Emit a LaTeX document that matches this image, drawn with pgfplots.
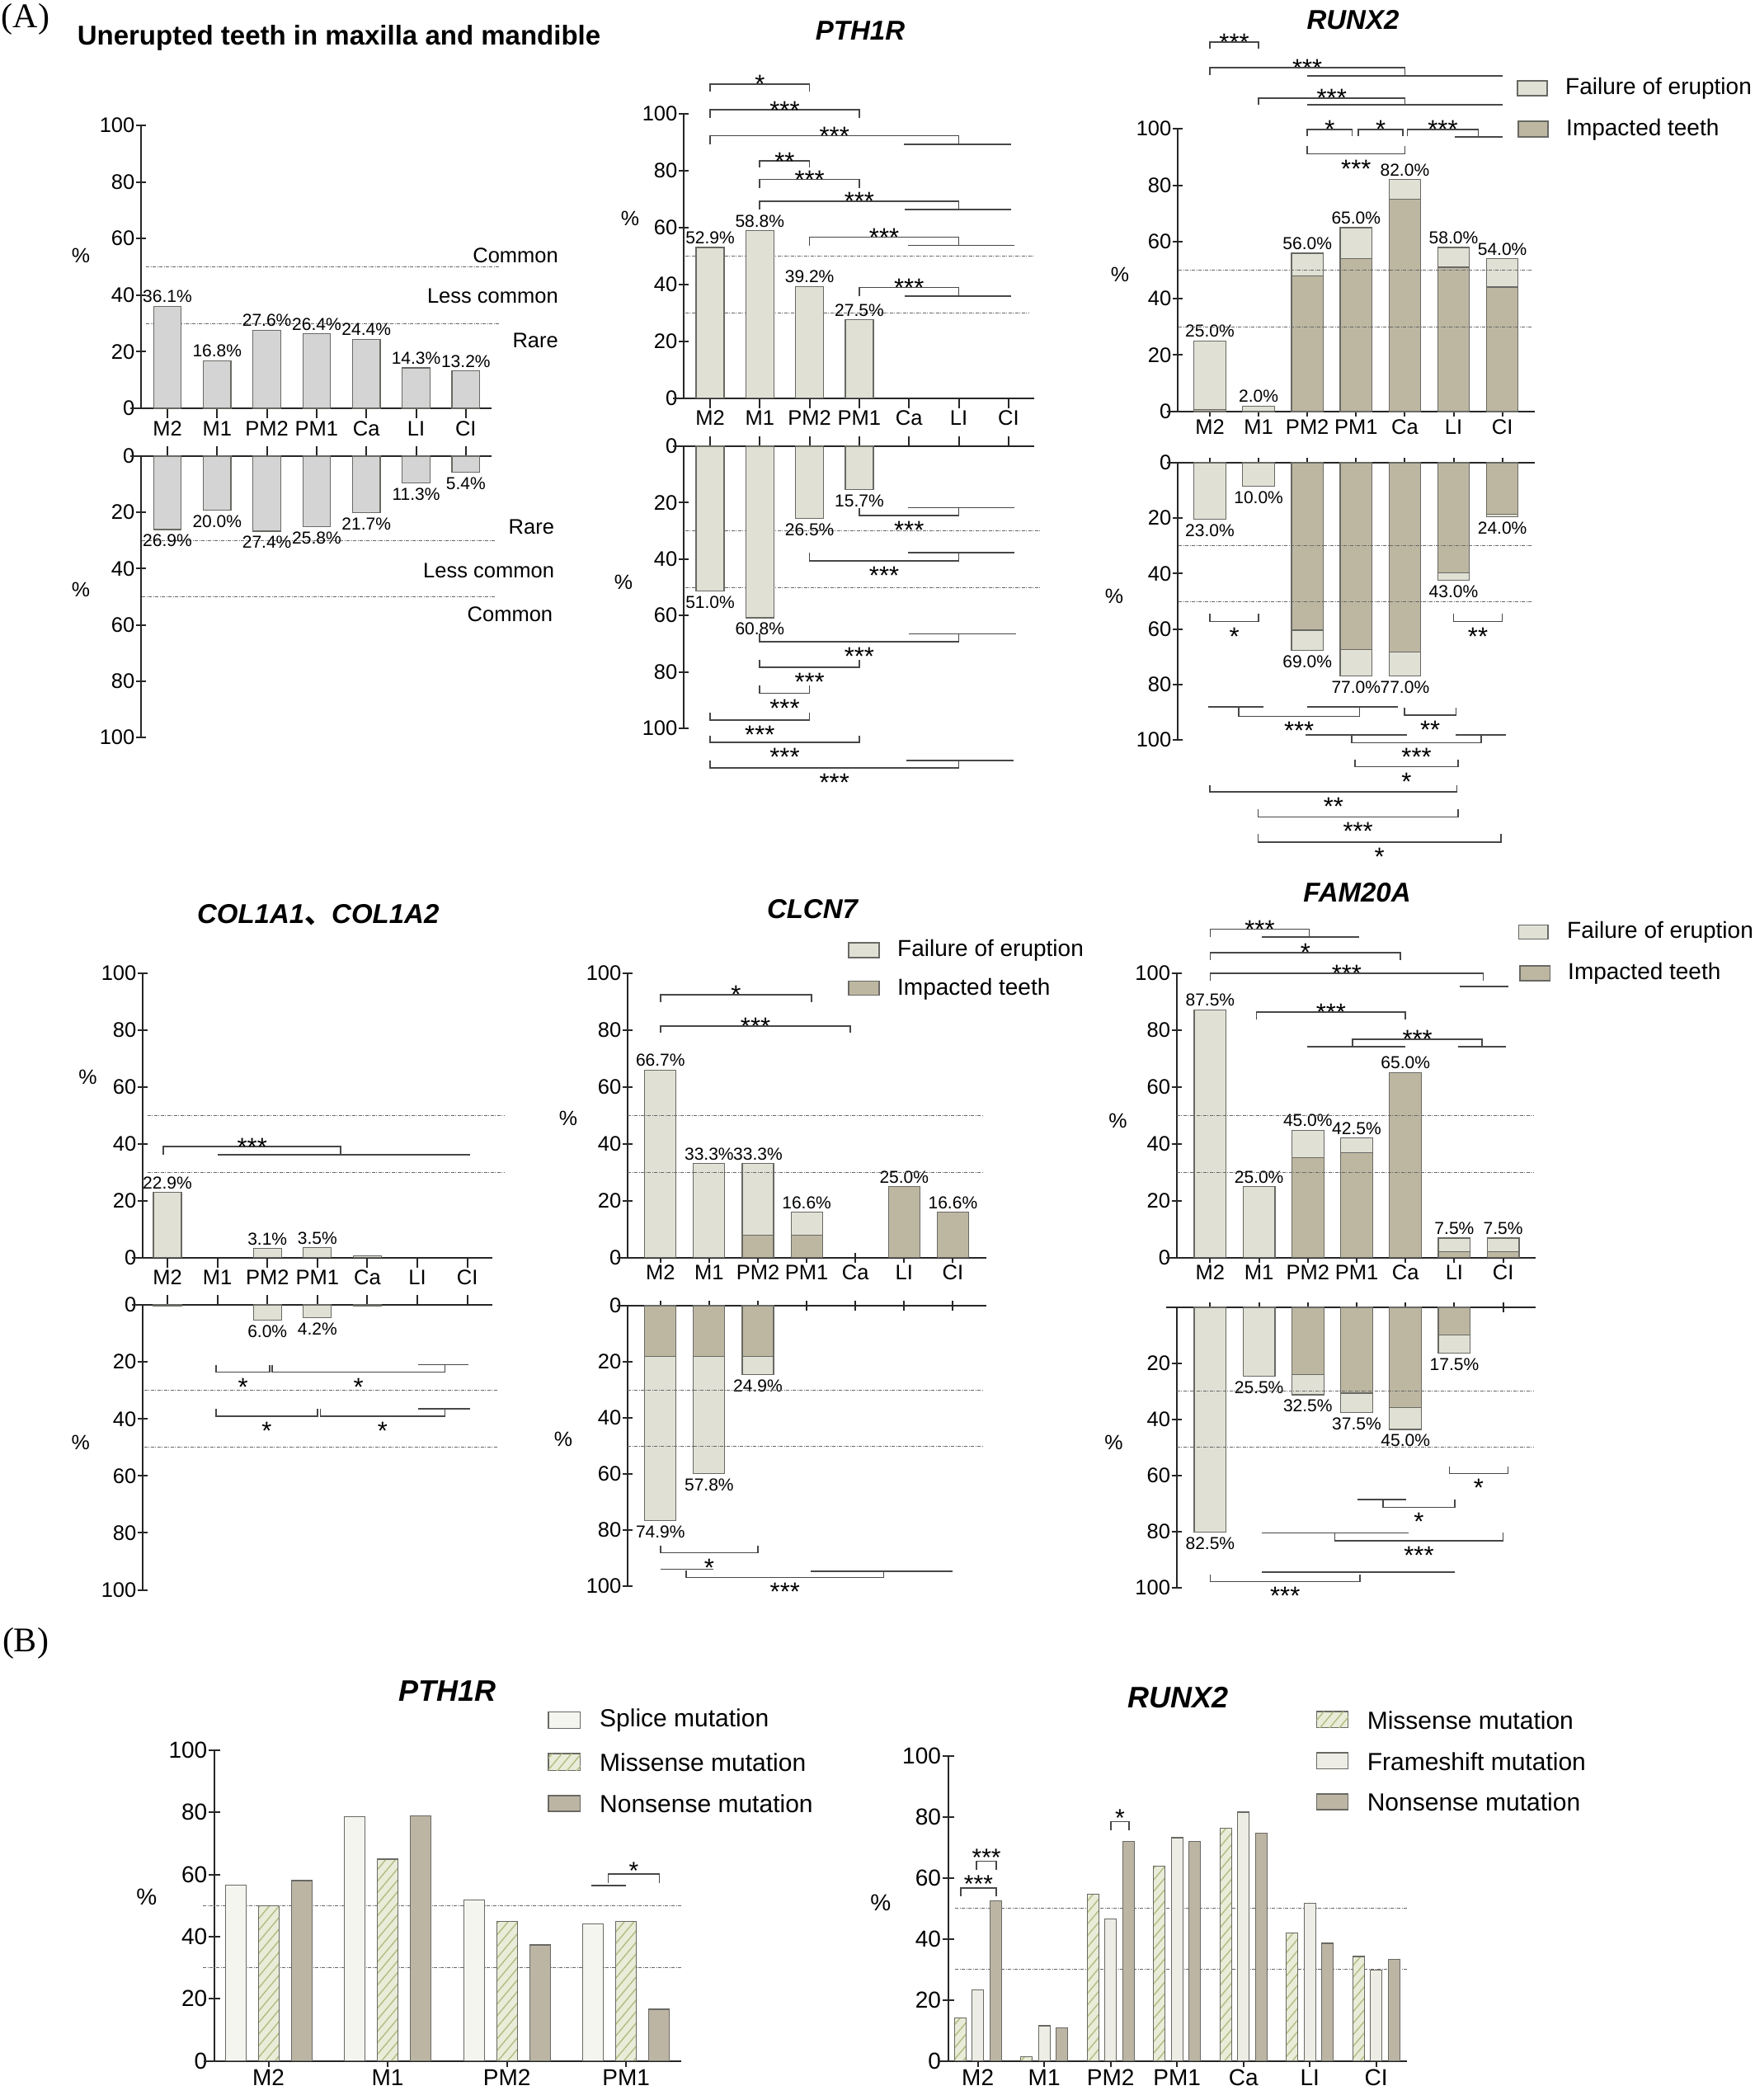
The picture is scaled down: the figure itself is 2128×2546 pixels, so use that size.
\documentclass[border=0pt]{standalone}
\usepackage{fontspec}
\setmainfont{Liberation Sans}
\newfontfamily\serifA{Liberation Serif}
\newfontfamily\cjk{Noto Sans CJK SC}
\usepackage{pgfplots}
\pgfplotsset{compat=1.18}
\usetikzlibrary{patterns,patterns.meta}
\definecolor{fail}{RGB}{224,224,213}
\definecolor{imp}{RGB}{189,183,162}
\definecolor{gbar}{RGB}{212,212,212}
\definecolor{edge}{RGB}{105,105,100}
\definecolor{splice}{RGB}{245,245,240}
\definecolor{miss}{RGB}{233,236,216}
\definecolor{hatch}{RGB}{178,188,130}
\definecolor{frame}{RGB}{237,237,230}
\definecolor{nons}{RGB}{189,181,164}
\newcommand{\fs}[1]{\fontsize{#1}{#1}\selectfont}
\tikzset{
 refl/.style={line width=0.9pt, draw=black!60, dash pattern=on 4pt off 1.5pt on 1pt off 1.5pt},
 brk/.style={line width=1.7pt, draw=black!72},
 st/.style={font=\fs{31}, inner sep=0pt},
 vl/.style={font=\fs{21}},
 lbl/.style={font=\fs{25.5}, inner sep=0pt},
 hatchy/.style={postaction={pattern={Lines[angle=50,distance=9pt,line width=1.4pt]},pattern color=hatch}},
 bL/.style={fill=fail, draw=edge, line width=1.2pt},
 bD/.style={fill=imp, draw=edge, line width=1.2pt},
 bG/.style={fill=gbar, draw=edge, line width=1.2pt},
}
\newcommand{\refline}[3]{\draw[refl] (axis cs:#1,#3) -- (axis cs:#2,#3);}
\newcommand{\gl}[3]{\draw[brk] (axis cs:#1,#3) -- (axis cs:#2,#3);}
\newcommand{\xext}[2]{\draw[line width=2pt,draw=black!85] (axis cs:#1,#2) -- ++(-13pt,0pt);}
\newcommand{\brA}[5]{\draw[brk] (axis cs:#1,#4) -- (axis cs:#1,#3) -- (axis cs:#2,#3) -- (axis cs:#2,#4);\node[st,anchor=base,yshift=-11pt] at (axis cs:{(#1+#2)/2},#3) {#5};}
\newcommand{\brB}[5]{\draw[brk] (axis cs:#1,#4) -- (axis cs:#1,#3) -- (axis cs:#2,#3) -- (axis cs:#2,#4);\node[st,anchor=base,yshift=-28.5pt] at (axis cs:{(#1+#2)/2},#3) {#5};}
\newcommand{\brC}[5]{\draw[brk] (axis cs:#1,#4) -- (axis cs:#1,#3) -- (axis cs:#2,#3) -- (axis cs:#2,#4);\node[st,font=\fs{30},anchor=base,yshift=-6pt] at (axis cs:{(#1+#2)/2},#3) {#5};}
\newcommand{\vu}[3]{\node[vl,anchor=south,inner sep=4pt] at (axis cs:#1,#2) {#3\%};}
\newcommand{\vd}[3]{\node[vl,anchor=north,inner sep=6pt] at (axis cs:#1,-#2) {#3\%};}
\pgfplotsset{
 tooth/.style={scale only axis, clip=false,
   tick align=outside, major tick length=12pt,
   /pgf/number format/assume math mode=true,
   tick label style={font=\fs{25.5}},
   yticklabel style={inner sep=1.5pt},
   xtick={0,...,6}},
 lines/.style={axis line style={-, line width=2pt, draw=black!85}, tick style={line width=2pt, draw=black!85}},
 up/.style={tooth, axis x line=bottom, axis y line=left, lines, ymin=0, ymax=100, ytick={0,20,...,100}, xticklabels={M2,M1,PM2,PM1,Ca,LI,CI}},
 lo/.style={tooth, axis x line=top, axis y line=left, lines, ymin=-100, ymax=0, ytick={-100,-80,...,0}, yticklabels={100,80,60,40,20,0}, xticklabels={}},
}
\begin{document}
\begin{tikzpicture}
\useasboundingbox (0,0) rectangle (2128pt,-2546pt);
% ---------- panel labels and titles
\node[font=\serifA\fs{42}] at (31pt,-23pt) {(A)};
\node[font=\serifA\fs{42}] at (31pt,-1992pt) {(B)};
\node[font=\bfseries\fs{33}] at (411pt,-46pt) {Unerupted teeth in maxilla and mandible};
\node[font=\bfseries\itshape\fs{33}] at (1043pt,-37.5pt) {PTH1R};
\node[font=\bfseries\itshape\fs{33}] at (1640.5pt,-23.7pt) {RUNX2};
\node[font=\bfseries\itshape\fs{33}] at (385.7pt,-1109pt) {COL1A1{\cjk 、}COL1A2};
\node[font=\bfseries\itshape\fs{33}] at (985pt,-1102.5pt) {CLCN7};
\node[font=\bfseries\itshape\fs{33}] at (1645.5pt,-1082pt) {FAM20A};
\node[font=\bfseries\itshape\fs{36}] at (542.7pt,-2049.6pt) {PTH1R};
\node[font=\bfseries\itshape\fs{36}] at (1428.6pt,-2058pt) {RUNX2};
% ---------- % labels
\node[font=\fs{25}] at (98pt,-310pt) {\%};
\node[font=\fs{25}] at (98pt,-715pt) {\%};
\node[font=\fs{25}] at (764pt,-265pt) {\%};
\node[font=\fs{25}] at (756pt,-706pt) {\%};
\node[font=\fs{25}] at (1358pt,-333pt) {\%};
\node[font=\fs{25}] at (1351pt,-723pt) {\%};
\node[font=\fs{25}] at (106.5pt,-1305.7pt) {\%};
\node[font=\fs{25}] at (97.8pt,-1749pt) {\%};
\node[font=\fs{25}] at (689pt,-1356pt) {\%};
\node[font=\fs{25}] at (683pt,-1745pt) {\%};
\node[font=\fs{25}] at (1355.4pt,-1359pt) {\%};
\node[font=\fs{25}] at (1350.4pt,-1749pt) {\%};
\node[font=\fs{28}] at (177.7pt,-2299.7pt) {\%};
\node[font=\fs{28}] at (1067.8pt,-2307pt) {\%};
% ---------- legends A
\draw[bL] (1840pt,-98pt) rectangle (1876pt,-116pt);
\node[anchor=west,inner sep=0pt,font=\fs{28}] at (1898pt,-107pt) {Failure of eruption};
\draw[bD] (1841pt,-147pt) rectangle (1877pt,-166pt);
\node[anchor=west,inner sep=0pt,font=\fs{28}] at (1899pt,-157pt) {Impacted teeth};
\draw[bL] (1029pt,-1143pt) rectangle (1066pt,-1161pt);
\node[anchor=west,inner sep=0pt,font=\fs{28}] at (1088pt,-1152.5pt) {Failure of eruption};
\draw[bD] (1029pt,-1189.5pt) rectangle (1066pt,-1206.4pt);
\node[anchor=west,inner sep=0pt,font=\fs{28}] at (1088pt,-1199pt) {Impacted teeth};
\draw[bL] (1841.4pt,-1121.6pt) rectangle (1877pt,-1138.5pt);
\node[anchor=west,inner sep=0pt,font=\fs{28}] at (1900pt,-1130pt) {Failure of eruption};
\draw[bD] (1843pt,-1171pt) rectangle (1879.6pt,-1189pt);
\node[anchor=west,inner sep=0pt,font=\fs{28}] at (1901pt,-1180.5pt) {Impacted teeth};
% ---------- legends B
\draw[fill=splice,draw=edge,line width=1.2pt] (665pt,-2075.4pt) rectangle (703.5pt,-2095.6pt);
\node[anchor=west,inner sep=0pt,font=\fs{30}] at (727pt,-2086pt) {Splice mutation};
\draw[fill=miss,draw=edge,line width=1.2pt,hatchy] (665pt,-2126pt) rectangle (703.5pt,-2146.5pt);
\node[anchor=west,inner sep=0pt,font=\fs{30}] at (727pt,-2137pt) {Missense mutation};
\draw[fill=nons,draw=edge,line width=1.2pt] (665pt,-2177pt) rectangle (703.5pt,-2196pt);
\node[anchor=west,inner sep=0pt,font=\fs{30}] at (727pt,-2186.4pt) {Nonsense mutation};
\draw[fill=miss,draw=edge,line width=1.2pt,hatchy] (1596.5pt,-2075pt) rectangle (1634.7pt,-2094.4pt);
\node[anchor=west,inner sep=0pt,font=\fs{30}] at (1657.6pt,-2085.7pt) {Missense mutation};
\draw[fill=frame,draw=edge,line width=1.2pt] (1596.5pt,-2125pt) rectangle (1634.7pt,-2144.6pt);
\node[anchor=west,inner sep=0pt,font=\fs{30}] at (1657.6pt,-2136pt) {Frameshift mutation};
\draw[fill=nons,draw=edge,line width=1.2pt] (1596.5pt,-2175pt) rectangle (1634.7pt,-2194pt);
\node[anchor=west,inner sep=0pt,font=\fs{30}] at (1657.6pt,-2185pt) {Nonsense mutation};

% ================= P1 Unerupted
\begin{axis}[up, at={(171pt,-495pt)}, anchor=south west, width=425pt, height=343pt, xmin=-0.531, xmax=6.517, ybar, bar width=33.5pt]
\refline{-0.43}{6.67}{50}\refline{-0.43}{6.67}{30}
\addplot[bG] coordinates {(0,36.1)(1,16.8)(2,27.6)(3,26.4)(4,24.4)(5,14.3)(6,13.2)};
\xext{-0.531}{0}
\vu{0}{36.1}{36.1}\vu{1}{16.8}{16.8}\vu{2}{27.6}{27.6}\vu{3}{26.4}{26.4}\vu{4}{24.4}{24.4}\vu{5}{14.3}{14.3}\vu{6}{13.2}{13.2}
\node[lbl,anchor=east] at (axis cs:7.86,53.9) {Common};
\node[lbl,anchor=east] at (axis cs:7.86,39.7) {Less common};
\node[lbl,anchor=east] at (axis cs:7.86,23.9) {Rare};
\end{axis}
\begin{axis}[lo, at={(171pt,-553pt)}, anchor=north west, width=425pt, height=341pt, xmin=-0.531, xmax=6.517, ybar, bar width=33.5pt]
\refline{-0.51}{6.58}{-30}\refline{-0.51}{6.58}{-50}
\addplot[bG] coordinates {(0,-26.1)(1,-19.2)(2,-26.7)(3,-25.0)(4,-20.0)(5,-9.6)(6,-5.7)};
\xext{-0.531}{0}
\vd{0}{26.1}{26.9}\vd{1}{19.2}{20.0}\vd{2}{26.7}{27.4}\vd{3}{25.0}{25.8}\vd{4}{20.0}{21.7}\vd{5}{9.6}{11.3}\vd{6}{5.7}{5.4}
\node[lbl,anchor=east] at (axis cs:7.78,-25.2) {Rare};
\node[lbl,anchor=east] at (axis cs:7.78,-40.8) {Less common};
\node[lbl,anchor=east] at (axis cs:7.75,-56.3) {Common};
\end{axis}

% ================= P2 PTH1R
\begin{axis}[up, at={(829pt,-482.5pt)}, anchor=south west, width=425pt, height=345pt, xmin=-0.531, xmax=6.517, ybar, bar width=34pt]
\refline{-0.5}{6.52}{50}\refline{-0.5}{6.4}{30}
\addplot[bL] coordinates {(0,52.9)(1,58.8)(2,39.2)(3,27.5)};
\xext{-0.531}{0}
\vu{0}{52.9}{52.9}\vu{1}{58.8}{58.8}\vu{2}{39.2}{39.2}\vu{3}{27.5}{27.5}
\brA{0}{2}{110.3}{107.6}{*}
\brA{0}{3}{101.3}{98.5}{***}
\brA{0}{5}{92.2}{89.1}{***}\gl{3.9}{6.05}{89.1}
\brA{1}{2}{83.3}{81}{**}
\brA{1}{3}{76.8}{73.7}{***}
\brA{1}{5}{69.2}{66.3}{***}\gl{3.91}{6.06}{66.3}
\brA{2}{5}{56.5}{53.6}{***}\gl{3.98}{6.12}{53.6}
\brA{3}{5}{38.8}{35.9}{***}\gl{3.91}{6.06}{35.9}
\end{axis}
\begin{axis}[lo, at={(829pt,-541pt)}, anchor=north west, width=425pt, height=342pt, xmin=-0.531, xmax=6.517, ybar, bar width=34pt]
\refline{-0.5}{6.64}{-30}\refline{-0.5}{6.64}{-50}
\addplot[bL] coordinates {(0,-51.3)(1,-60.8)(2,-25.5)(3,-15.3)};
\xext{-0.531}{0}
\vd{0}{51.3}{51.0}\vd{1}{60.8}{60.8}\vd{2}{25.5}{26.5}\vd{3}{15.3}{15.7}
\brB{3}{5}{-24.5}{-21.8}{***}\gl{3.98}{6.12}{-21.8}
\brB{2}{5}{-40.6}{-37.8}{***}\gl{3.98}{6.12}{-37.8}
\brB{1}{5}{-69.3}{-66.5}{***}\gl{4.0}{6.15}{-66.5}
\brB{1}{3}{-78.4}{-75.7}{***}
\brB{1}{2}{-87.6}{-84.8}{***}
\brB{0}{2}{-97.1}{-94.5}{***}
\brB{0}{3}{-104.9}{-102.7}{***}
\brB{0}{5}{-114.1}{-111.3}{***}\gl{3.95}{6.1}{-111.3}
\end{axis}

% ================= P3 RUNX2
\begin{axis}[up, at={(1428pt,-499pt)}, anchor=south west, width=433pt, height=343pt, xmin=-0.66, xmax=6.667, ybar stacked, bar width=38.5pt]
\refline{-0.64}{6.62}{50}\refline{-0.64}{6.62}{30}
\addplot[bD] coordinates {(0,0.8)(1,0)(2,48)(3,54)(4,75)(5,51)(6,44)};
\addplot[bL] coordinates {(0,24.2)(1,2)(2,8)(3,11)(4,7)(5,7)(6,10)};
\xext{-0.66}{0}
\vu{0}{25}{25.0}\vu{1}{2}{2.0}\vu{2}{56}{56.0}\vu{3}{65}{65.0}\vu{4}{82}{82.0}\vu{5}{58}{58.0}\vu{6}{54}{54.0}
\brA{0}{1}{130.6}{128.2}{***}
\brA{0}{4}{121.5}{119}{***}\gl{2}{6}{118.6}
\brA{1}{4}{110.8}{108.5}{***}\gl{2}{6}{108.5}
\brA{2}{2.92}{99.8}{97.4}{*}
\brA{3.05}{3.96}{99.8}{97.4}{*}
\brA{4.05}{5.51}{99.8}{97.4}{***}\gl{5.02}{6}{97.0}
\brB{2}{4}{91.1}{93.9}{***}
\end{axis}
\begin{axis}[lo, at={(1428pt,-561pt)}, anchor=north west, width=433pt, height=336pt, xmin=-0.66, xmax=6.667, ybar stacked, bar width=38.5pt]
\refline{-0.64}{6.62}{-30}\refline{-0.64}{6.62}{-50}
\addplot[bD] coordinates {(0,0)(1,0)(2,-60.4)(3,-67.4)(4,-68.4)(5,-39.8)(6,-18.5)};
\addplot[bL] coordinates {(0,-20.5)(1,-8.5)(2,-7.4)(3,-9.5)(4,-8.5)(5,-2.7)(6,-1.0)};
\xext{-0.66}{0}
\vd{0}{20.5}{23.0}\vd{1}{8.5}{10.0}\vd{2}{67.8}{69.0}\vd{3}{76.9}{77.0}\vd{4}{76.9}{77.0}\vd{5}{42.5}{43.0}\vd{6}{19.5}{24.0}
\brB{0}{1}{-57.3}{-54.5}{*}
\brB{5}{6}{-57.3}{-54.5}{**}
\gl{-0.04}{1.1}{-88.1}\gl{2.0}{3.86}{-88.1}
\brB{0.59}{3.07}{-91.5}{-88.1}{***}
\brB{3.99}{5.05}{-91}{-88.5}{**}
\gl{1.96}{4.05}{-98.2}\gl{5.05}{6.08}{-98.2}
\brB{2.91}{5.57}{-101}{-98.2}{***}
\brB{2.98}{5.09}{-109.7}{-107}{*}
\brB{0}{5.07}{-118.7}{-116.3}{**}
\brB{0.99}{5.09}{-127.8}{-125}{***}
\brB{0.99}{5.97}{-136.8}{-134}{*}
\end{axis}

% ================= P4 COL1A1
\begin{axis}[up, at={(173pt,-1524.5pt)}, anchor=south west, width=424pt, height=345pt, xmin=-0.495, xmax=6.50, ybar, bar width=34pt]
\refline{-0.4}{6.73}{50}\refline{-0.4}{6.73}{30}
\addplot[bL] coordinates {(0,22.9)(2,3.1)(3,3.5)(4,0.5)};
\xext{-0.495}{0}
\vu{0}{22.9}{22.9}\vu{2}{3.1}{3.1}\vu{3}{3.5}{3.5}
\brA{-0.08}{3.47}{38.9}{36.1}{***}\gl{1.0}{6.05}{36.1}
\end{axis}
\begin{axis}[lo, at={(173pt,-1582pt)}, anchor=north west, width=424pt, height=345.5pt, xmin=-0.495, xmax=6.50, ybar, bar width=34pt]
\refline{-0.47}{6.61}{-30}\refline{-0.47}{6.61}{-50}
\addplot[bL] coordinates {(0,-0.4)(2,-5.4)(3,-4.4)(4,-0.4)};
\xext{-0.495}{0}
\vd{2}{5.4}{6.0}\vd{3}{4.4}{4.2}
\brB{0.97}{2.05}{-23.6}{-21}{*}
\brB{2.09}{5.55}{-23.6}{-21}{*}\gl{5.02}{6.02}{-21}
\brB{0.97}{3.0}{-39}{-36.4}{*}
\brB{3.06}{5.55}{-39}{-36.4}{*}\gl{5.02}{6.05}{-36.4}
\end{axis}

% ================= P5 CLCN7
\begin{axis}[up, at={(761pt,-1524.5pt)}, anchor=south west, width=434.6pt, height=345pt, xmin=-0.673, xmax=6.68, ybar stacked, bar width=38pt]
\refline{-0.67}{6.63}{50}\refline{-0.67}{6.63}{30}
\addplot[bD] coordinates {(0,0)(1,0)(2,7.8)(3,7.8)(4,0)(5,24.9)(6,15.9)};
\addplot[bL] coordinates {(0,65.9)(1,33)(2,25.2)(3,8.1)(4,0)(5,0)(6,0)};
\xext{-0.673}{0}
\vu{0}{65.9}{66.7}\vu{1}{33}{33.3}\vu{2}{33}{33.3}\vu{3}{15.9}{16.6}\vu{5}{24.9}{25.0}\vu{6}{15.9}{16.6}
\brA{0}{3.1}{92.4}{89.8}{*}
\brA{0}{3.9}{81.3}{78.9}{***}
\end{axis}
\begin{axis}[lo, at={(761pt,-1583pt)}, anchor=north west, width=434.6pt, height=340pt, xmin=-0.673, xmax=6.68, ybar stacked, bar width=38pt]
\refline{-0.67}{6.63}{-30}\refline{-0.67}{6.63}{-50}
\addplot[bD] coordinates {(0,-18)(1,-18)(2,-18)(3,0)(4,0)(5,0)(6,0)};
\addplot[bL] coordinates {(0,-58.7)(1,-41.8)(2,-6.5)(3,0)(4,0)(5,0)(6,0)};
\xext{-0.673}{0}
\vd{0}{76.7}{74.9}\vd{1}{59.8}{57.8}\vd{2}{24.5}{24.9}
\brB{0}{2}{-88.1}{-85.6}{*}
\gl{0}{1.09}{-94.0}\gl{3.08}{6.0}{-94.6}
\brB{0.53}{4.58}{-96.9}{-94.3}{***}
\end{axis}

% ================= P6 FAM20A
\begin{axis}[up, at={(1426.7pt,-1524.5pt)}, anchor=south west, width=435.1pt, height=345pt, xmin=-0.687, xmax=6.662, ybar stacked, bar width=38.7pt]
\refline{-0.69}{6.62}{50}\refline{-0.69}{6.62}{30}
\addplot[bD] coordinates {(0,0)(1,0)(2,35)(3,36.9)(4,65)(5,1.95)(6,1.95)};
\addplot[bL] coordinates {(0,87)(1,24.9)(2,9.7)(3,5.1)(4,0)(5,4.85)(6,4.85)};
\xext{-0.687}{0}
\vu{0}{87}{87.5}\vu{1}{24.9}{25.0}\vu{2}{44.7}{45.0}\vu{3}{42}{42.5}\vu{4}{65}{65.0}\vu{5}{6.8}{7.5}\vu{6}{6.8}{7.5}
\brA{0}{2.03}{115.4}{112.7}{***}\gl{1.06}{3.05}{112.7}
\brA{0}{3.9}{107.2}{104.6}{*}
\brA{0}{5.59}{99.8}{97.2}{***}\gl{5.11}{6.1}{95.3}
\brA{0.95}{4.0}{86.2}{83.6}{***}
\brA{2.92}{5.57}{76.7}{74.1}{***}\gl{1.98}{4.0}{74.1}\gl{5.07}{6.06}{74.1}
\end{axis}
\begin{axis}[lo, at={(1426.7pt,-1585pt)}, anchor=north west, width=435.1pt, height=339.6pt, xmin=-0.687, xmax=6.662, ybar stacked, bar width=38.7pt, ytick={-100,-80,-60,-40,-20}, yticklabels={100,80,60,40,20}]
\refline{-0.69}{6.62}{-30}\refline{-0.69}{6.62}{-50}
\addplot[bD] coordinates {(0,0)(1,0)(2,-24)(3,-30.6)(4,-35.7)(5,-9.9)(6,0)};
\addplot[bL] coordinates {(0,-80.2)(1,-24.6)(2,-7.2)(3,-6.9)(4,-7.9)(5,-6.5)(6,0)};
\xext{-0.687}{0}
\vd{0}{80.2}{82.5}\vd{1}{24.6}{25.5}\vd{2}{31.2}{32.5}\vd{3}{37.5}{37.5}\vd{4}{43.6}{45.0}\vd{5}{16.4}{17.5}
\brB{4.9}{6.1}{-59.3}{-56.9}{*}
\gl{3.01}{4.02}{-68.6}
\brB{3.54}{5.01}{-71.4}{-68.6}{*}
\gl{1.06}{4.06}{-80.5}
\brB{2.55}{6.0}{-83.3}{-80.5}{***}
\gl{1.06}{5.01}{-94.5}
\brB{0}{3.07}{-97.9}{-95.4}{***}
\end{axis}

% ================= B1 PTH1R
\begin{axis}[tooth, axis x line=bottom, axis y line=left, lines, at={(260pt,-2498.5pt)}, anchor=south west, width=566.3pt, height=376.7pt, xmin=-0.454, xmax=3.465, ymin=0, ymax=100, ytick={0,20,...,100}, xtick={0,1,2,3}, xticklabels={M2,M1,PM2,PM1}, tick label style={font=\fs{28}}, major tick length=14pt]
\refline{-0.55}{3.465}{50}\refline{-0.55}{3.465}{30}
\addplot[ybar, bar width=25pt, bar shift=-40pt, fill=splice, draw=edge, line width=1.2pt] coordinates {(0,56.5)(1,78.6)(2,51.7)(3,44.1)};
\addplot[ybar, bar width=25pt, bar shift=0pt, fill=miss, draw=edge, line width=1.2pt, hatchy] coordinates {(0,49.9)(1,64.9)(2,44.9)(3,44.9)};
\addplot[ybar, bar width=25pt, bar shift=40pt, fill=nons, draw=edge, line width=1.2pt] coordinates {(0,58)(1,78.9)(2,37.3)(3,16.6)};
\xext{-0.454}{0}
\gl{2.71}{3.0}{56.5}
\brC{2.85}{3.28}{60.1}{57.3}{*}
\end{axis}

% ================= B2 RUNX2
\begin{axis}[tooth, axis x line=bottom, axis y line=left, lines, at={(1149.6pt,-2498.5pt)}, anchor=south west, width=556.4pt, height=370pt, xmin=-0.448, xmax=6.463, ymin=0, ymax=100, ytick={0,20,...,100}, xticklabels={M2,M1,PM2,PM1,Ca,LI,CI}, tick label style={font=\fs{28}}, major tick length=14pt]
\refline{-0.34}{6.46}{50}\refline{-0.34}{6.46}{30}
\addplot[ybar, bar width=14pt, bar shift=-21.5pt, fill=miss, draw=edge, line width=1.2pt, hatchy] coordinates {(0,14)(1,1.3)(2,54.5)(3,63.8)(4,76.3)(5,41.9)(6,34.2)};
\addplot[ybar, bar width=14pt, bar shift=0pt, fill=frame, draw=edge, line width=1.2pt] coordinates {(0,23.2)(1,11.5)(2,46.5)(3,73.1)(4,81.5)(5,51.6)(6,29.8)};
\addplot[ybar, bar width=14pt, bar shift=21.5pt, fill=nons, draw=edge, line width=1.2pt] coordinates {(0,52.5)(1,10.9)(2,71.9)(3,71.9)(4,74.7)(5,38.5)(6,33.2)};
\xext{-0.448}{0}
\brC{-0.258}{0.277}{56.7}{54.0}{***}
\brC{-0.017}{0.277}{65.4}{62.7}{***}
\brC{2.0}{2.277}{78.4}{75.5}{*}
\end{axis}
\end{tikzpicture}
\end{document}
